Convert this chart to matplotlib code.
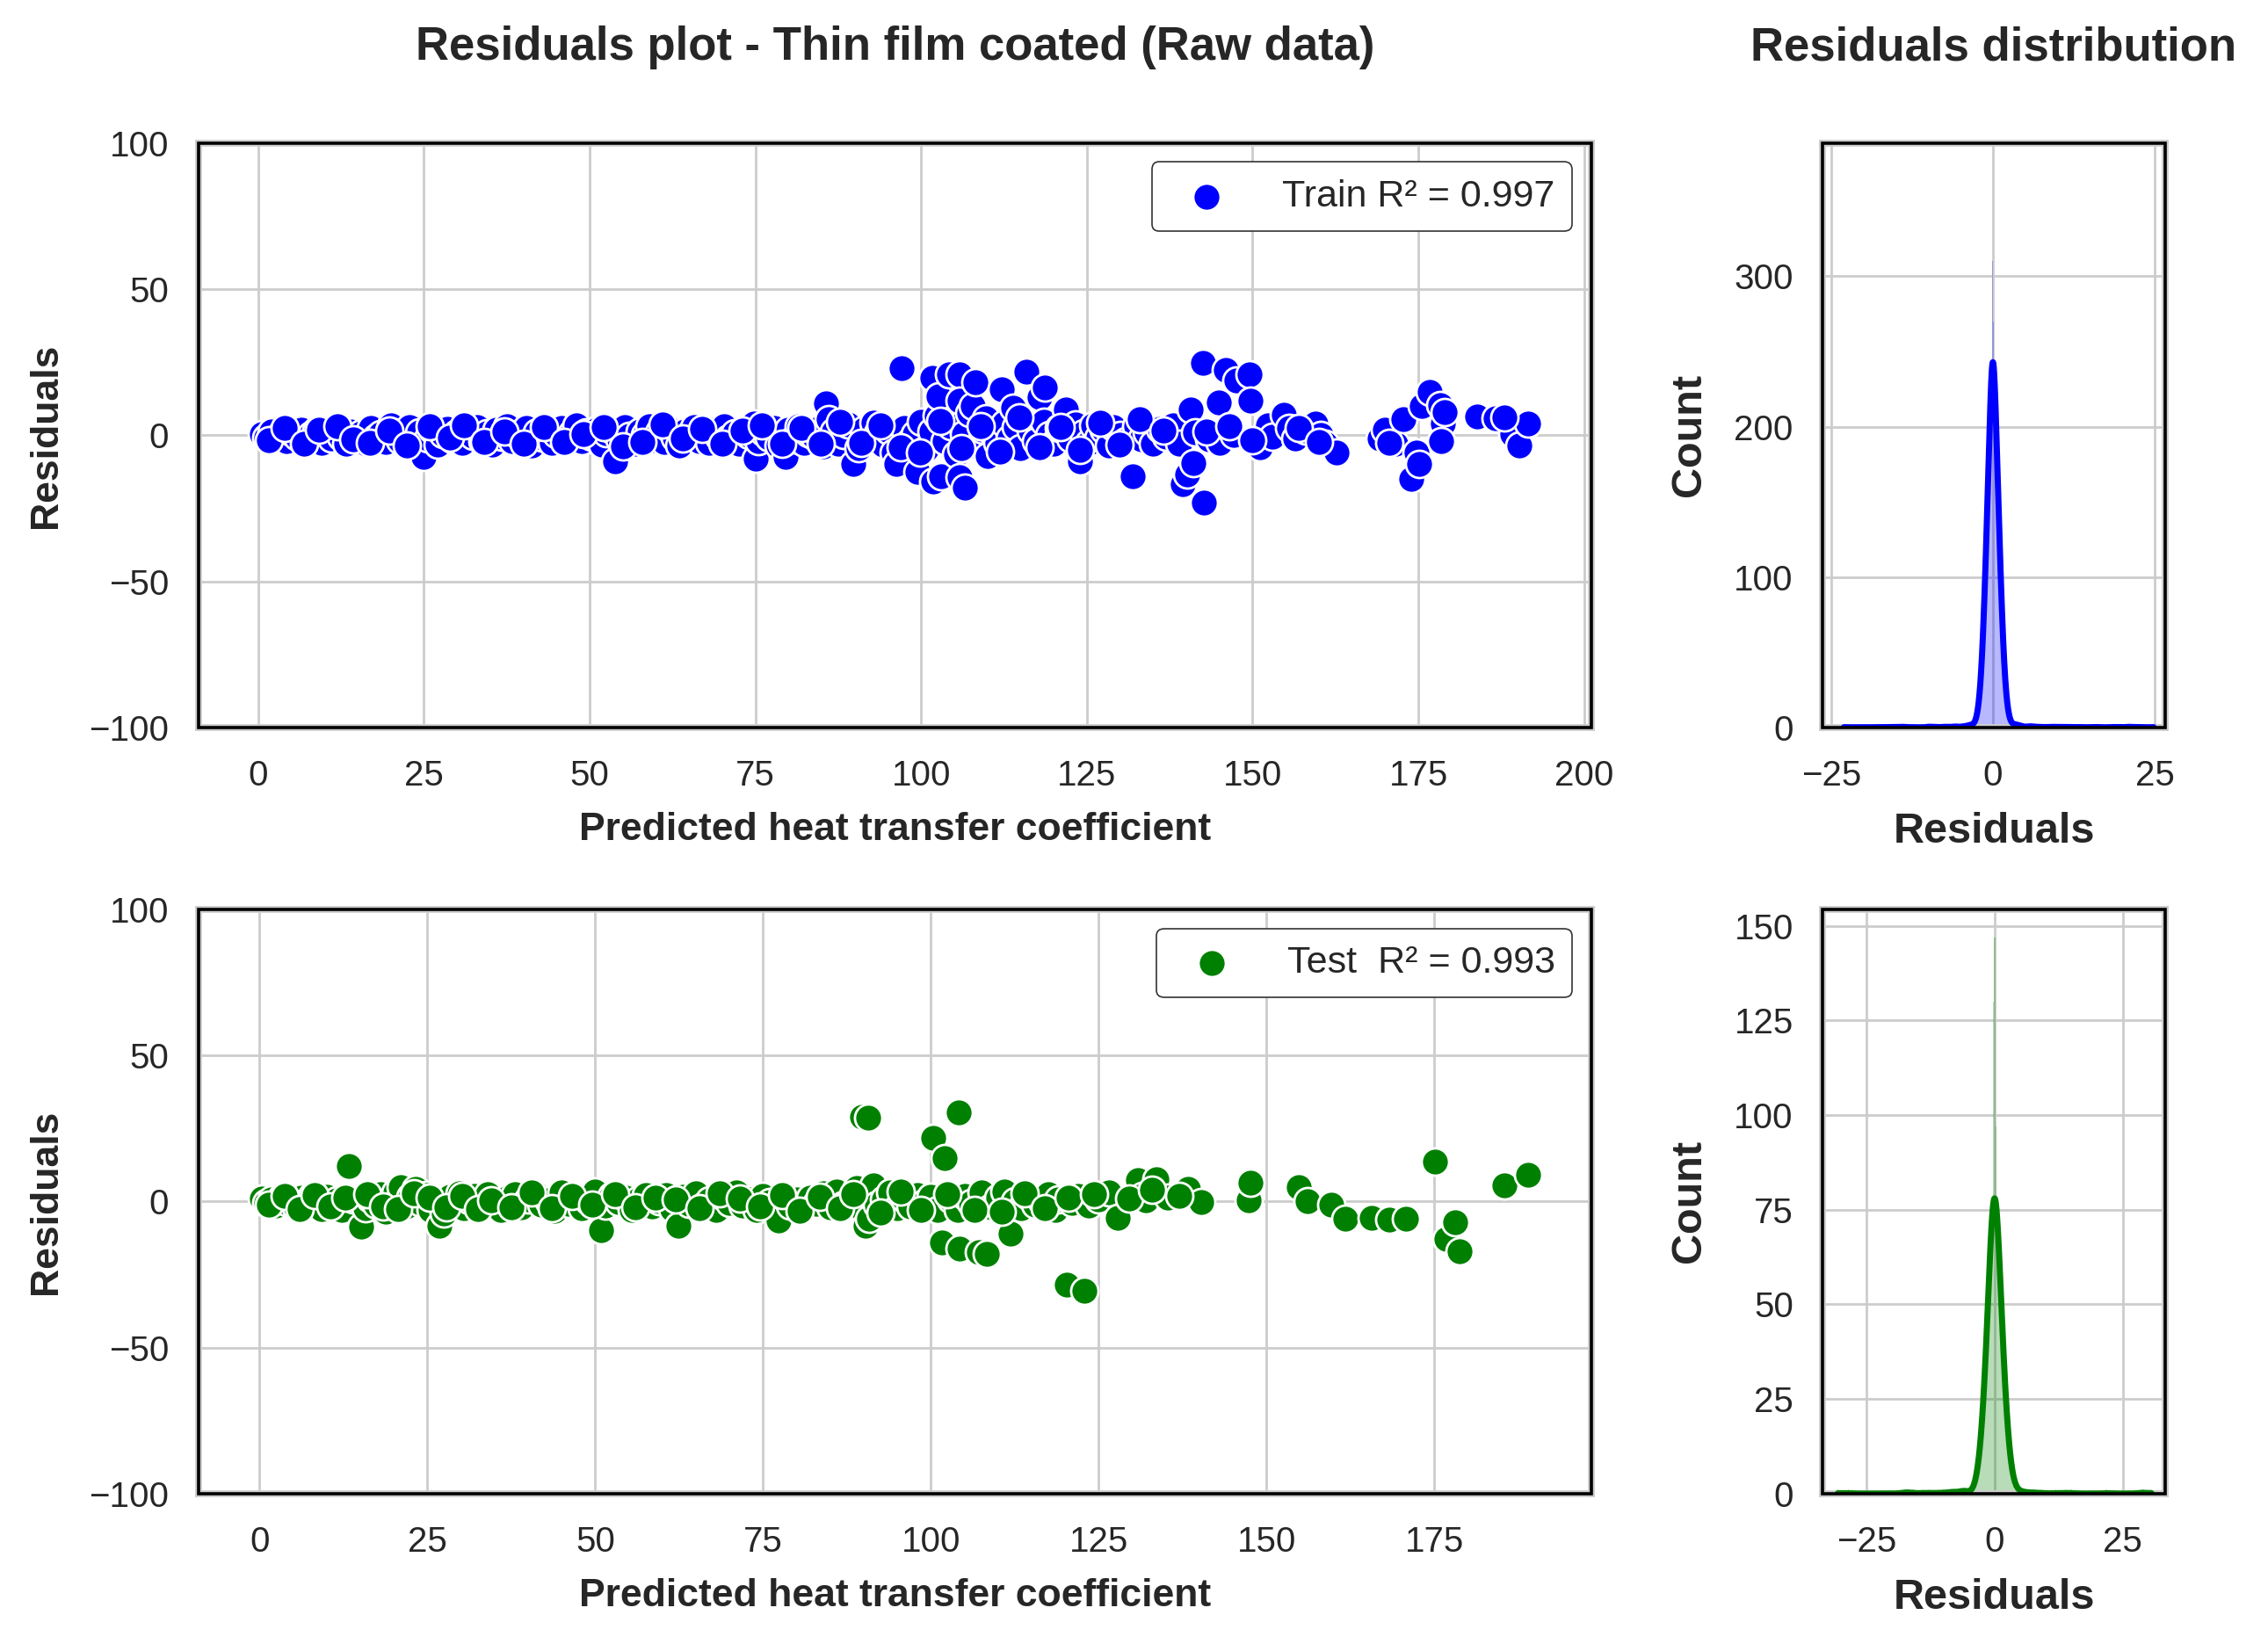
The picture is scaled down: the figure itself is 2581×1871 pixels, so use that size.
import numpy as np
import matplotlib
matplotlib.use("Agg")
import matplotlib.pyplot as plt
import seaborn as sns
from matplotlib.patches import Rectangle
from matplotlib.ticker import MultipleLocator

sns.set_theme(style="whitegrid")
plt.rcParams['font.family'] = ['Liberation Sans', 'DejaVu Sans']

# ---- scatter data ----
train_pred = [0.5, 1.2, 2.0, 2.8, 3.5, 4.3, 5.0, 5.8, 6.5, 7.3, 8.0, 8.8, 9.5, 10.3, 11.0, 11.8, 12.5, 13.3, 14.0, 14.8,
              15.5, 16.3, 17.0, 17.8, 18.5, 19.3, 20.0, 20.6, 21.3, 22.0, 22.8, 23.5, 24.3, 25.0, 25.6, 26.3, 27.0, 27.8, 28.5, 29.3,
              30.0, 30.8, 31.5, 32.3, 33.0, 33.8, 34.5, 35.3, 36.0, 36.8, 37.5, 38.3, 39.0, 39.8, 40.5, 41.3, 42.0, 42.8, 43.5, 44.3,
              45.0, 45.8, 46.5, 47.3, 48.0, 48.8, 49.5, 50.3, 51.0, 51.8, 52.5, 53.3, 53.8, 54.5, 55.3, 56.0, 56.8, 57.5, 58.3, 59.0,
              59.8, 60.5, 61.3, 62.0, 62.8, 63.5, 64.3, 65.0, 65.8, 66.5, 67.3, 68.0, 68.8, 69.5, 70.3, 71.0, 71.8, 72.5, 73.3, 74.0,
              74.8, 75.0, 75.5, 76.3, 77.0, 77.8, 78.5, 79.3, 79.5, 80.0, 80.8, 81.5, 82.3, 83.0, 83.8, 84.5, 85.3, 85.6, 86.0, 86.8,
              87.5, 88.3, 89.0, 89.8, 90.5, 91.3, 92.0, 92.8, 93.5, 94.3, 95.0, 95.8, 96.2, 97.0, 97.5, 98.3, 99.0, 99.4,
              100.0, 100.8, 101.5, 101.7, 101.8, 102.3, 102.6, 103.0, 103.5, 104.2, 104.5, 105.3, 105.8, 105.8, 105.8, 106.6, 106.5, 107.3,
              107.8, 108.2, 108.5, 109.3, 109.8, 110.0, 110.8, 111.5, 112.2, 112.5, 113.3, 113.9, 114.3, 115.0, 115.9, 116.5, 117.3, 117.9,
              118.7, 118.5, 119.3, 120.0, 120.8, 121.9, 122.5, 123.3, 123.9, 124.5, 125.3, 126.0, 126.8, 127.5, 128.3, 129.0, 130.0, 130.8,
              131.9, 132.5, 133.3, 134.0, 135.0, 136.0, 137.0, 138.0, 139.0, 139.5, 140.1, 140.7, 141.0, 141.3,
              142.5, 142.7, 143.5, 144.9, 145.1, 145.9, 147.1, 147.5, 149.5, 149.7, 151.1, 152.3, 153.0, 154.7, 155.5, 156.5, 158.0, 159.5,
              160.3, 161.0, 162.7, 169.1, 170.0, 171.5, 172.7, 173.9, 174.7, 175.1, 175.5, 176.7, 178.3, 178.7, 178.5, 183.9, 186.7, 189.2,
              190.3, 191.5,
              1.6, 4.0, 6.9, 9.1, 12.0, 14.4, 16.9, 19.8, 22.4, 25.9, 28.9, 31.1, 34.1, 37.1, 40.1, 43.1, 46.1, 49.1, 52.1, 55.0,
              58.0, 61.0, 64.0, 67.0, 70.0, 73.0, 76.0, 79.0, 82.0, 84.9, 87.8, 90.9, 93.9, 96.9, 99.8, 102.9, 106.0, 109.0, 111.9, 114.8,
              117.9, 121.0, 124.0, 127.0, 129.9, 133.0, 136.5, 143.0, 146.5, 150.0, 157.0, 160.0, 170.6, 179.0, 188.0]
train_resid = [0.5, -0.8, 1.2, -1.5, 0.3, -2.0, 1.0, -0.5, 2.0, -1.8, 0.2, 1.5, -2.5, 0.8, -1.2, 2.2, -0.4, -2.8, 1.3, -1.0,
               0.6, -3.0, 2.5, -0.9, 0.4, -2.2, 3.5, 1.0, -1.6, 0.2, 2.8, -2.4, 0.9, -7.4, -1.0, 1.8, -3.2, 0.5, 2.3, -1.4,
               0.8, -2.6, 1.6, -0.3, 2.9, -1.9, 0.7, -3.1, 1.9, -0.6, 3.0, -2.0, 0.4, -1.1, 2.4, -3.4, 0.9, -0.7, 1.7, -2.7,
               0.3, 2.6, -1.3, 0.6, 3.3, -2.1, 1.1, -0.5, 2.0, -3.3, 0.8, 1.9, -8.9, -1.5, 2.7, -0.2, -2.9, 1.4, 0.1, 3.1,
               -1.7, 0.9, -2.3, 2.1, -0.8, -3.5, 1.2, 0.0, 2.9, -1.9, 0.5, -2.6, 1.8, -0.4, 3.2, -1.2, 0.7, -3.0, 2.3, 0.2,
               4.0, -7.9, -2.0, 1.0, -0.9, 2.6, -3.6, 0.4, -7.4, 1.9, -1.4, 3.0, -2.5, 0.6, -0.3, 2.2, -3.9, 10.9, 5.5, 1.3,
               -2.8, 0.0, 3.6, -9.9, -4.5, 2.0, -1.6, 4.2, 0.8, -3.2, 1.5, -6.0, -9.9, 23.0, 2.6, -2.4, 0.3, -12.4,
               4.5, -4.8, 1.2, 19.6, -15.8, 6.8, 13.4, -13.9, -2.0, 20.8, 3.0, -6.5, 21.0, 11.9, -14.4, -17.8, 0.5, 7.5,
               9.9, 18.3, -3.8, 2.0, 5.9, -7.0, 0.8, -2.5, 15.8, 4.0, -1.0, 9.4, 2.8, -4.5, 21.8, 1.5, -2.0, 12.9,
               16.3, 4.5, 0.0, -3.0, 2.5, 8.9, -1.2, 3.8, -8.9, 0.6, -2.6, 3.5, -0.8, 1.8, -3.4, 2.9, 0.2, -2.0,
               -13.9, 3.0, -1.4, 1.0, -2.8, 2.2, -0.5, 3.5, -3.0, -16.8, -13.4, 8.9, -9.4, 1.0,
               24.8, -23.0, -1.5, 11.1, -2.5, 22.3, 0.0, 18.8, 20.8, 11.9, -4.0, 3.5, -0.5, 6.9, 2.5, -1.0, 1.5, 4.0,
               0.0, -3.0, -5.9, -1.0, 2.0, -3.0, 5.4, -14.9, -5.9, -9.9, 9.9, 14.9, 10.4, 4.0, -2.0, 6.4, 5.9, 0.5,
               -3.5, 4.0,
               -1.8, 2.4, -3.0, 1.9, 3.1, -1.4, -2.6, 1.6, -3.5, 3.2, -0.8, 3.4, -2.4, 1.3, -3.0, 2.7, -2.2, 0.5, 2.9, -3.8,
               -2.4, 3.6, -1.1, 2.2, -2.9, 1.5, 3.4, -2.8, 2.6, -3.0, 4.5, -2.6, 3.5, -4.0, -6.0, 5.0, -4.5, 3.2, -5.5, 6.0,
               -4.0, 2.8, -5.0, 4.2, -3.2, 5.5, 1.5, 1.2, 3.0, -1.8, 2.5, -2.2, -2.5, 8.0, 6.0]

test_pred = [0.3, 1.0, 1.8, 2.5, 3.3, 4.0, 4.8, 5.5, 6.3, 7.0, 7.8, 8.5, 9.3, 10.0, 10.8, 11.5, 12.3, 13.3, 14.0, 15.1,
             15.8, 16.5, 17.3, 18.0, 18.8, 19.5, 20.3, 21.0, 21.8, 22.5, 23.3, 24.0, 24.8, 25.5, 26.3, 26.8, 27.5, 28.3, 29.0, 29.8,
             30.5, 31.3, 32.0, 33.0, 34.0, 35.0, 36.0, 37.0, 38.0, 39.0, 40.0, 41.0, 42.0, 43.0, 44.0, 45.0, 46.0, 47.0, 48.0, 49.0,
             50.0, 50.9, 51.5, 52.5, 53.5, 54.5, 55.5, 56.5, 57.5, 58.5, 59.5, 60.5, 61.5, 62.4, 63.0, 64.0, 65.0, 66.0, 67.0, 68.0,
             69.0, 70.0, 71.0, 72.0, 73.0, 74.0, 75.0, 76.0, 77.3, 78.0, 79.0, 80.0, 81.0, 82.0, 83.0, 84.0, 85.0, 86.0, 87.0, 88.0,
             89.0, 89.8, 90.0, 90.3, 90.6, 90.8, 91.0, 91.5, 92.0, 93.0, 94.0, 95.0, 96.0, 97.0, 98.0, 99.0, 100.0, 100.4, 101.0, 101.6,
             102.0, 103.0, 104.0, 104.2, 104.3, 105.0, 106.0, 107.1, 107.5, 108.3, 109.0, 110.0, 111.0, 111.9, 112.5, 113.5, 114.5, 115.5, 116.5, 117.5,
             118.5, 119.0, 120.2, 121.0, 122.0, 122.9, 123.5, 125.0, 126.5, 127.9, 130.8, 131.5, 132.0, 133.6, 135.3, 138.3, 140.3, 147.3, 147.6, 154.8,
             156.1, 159.7, 161.8, 165.6, 168.3, 170.8, 175.1, 176.8, 178.1, 178.8, 185.4, 188.9,
             1.4, 3.7, 6.0, 8.2, 10.5, 12.8, 16.1, 18.4, 20.7, 23.0, 25.3, 27.9, 30.2, 32.5, 34.5, 37.5, 40.5, 43.5, 46.5, 49.5,
             53.0, 56.0, 59.0, 62.0, 65.5, 68.5, 71.5, 74.5, 77.8, 80.5, 83.5, 86.5, 88.5, 92.5, 95.5, 98.5, 102.5, 106.5, 110.5, 114.0,
             117.0, 120.5, 124.3, 129.5, 133.0, 137.0]
test_resid = [1.0, -0.5, 0.8, -1.5, 1.6, -0.2, 0.5, -2.0, 1.2, -1.0, 2.0, 0.0, -2.6, 1.5, -0.8, 0.4, -3.0, 12.1, 0.6, -8.6,
              -2.2, 1.0, -1.2, 2.5, -3.5, 0.5, 3.0, 5.0, -1.8, 1.5, 4.2, -0.6, 2.2, -2.8, 0.9, -8.2, -4.0, 1.6, -1.0, 2.8,
              -2.4, 0.3, 1.9, -1.5, 2.4, -0.4, -3.0, 1.2, 2.6, -2.0, 0.8, 2.9, -1.0, 0.4, -3.3, 3.0, -0.7, 1.7, -2.3, 0.2,
              3.4, -9.9, -1.4, 2.0, -0.3, 1.4, -2.9, 0.7, 2.3, -1.6, 0.1, 2.1, -2.5, -8.4, 1.5, -0.9, 2.7, -1.8, 0.5, -3.0,
              1.8, -0.5, 3.2, -1.4, 0.6, -2.8, 1.9, -0.2, -6.4, 2.4, -1.5, 0.8, -2.6, 1.2, -0.8, 2.9, -2.0, 3.5, -1.0, 0.5,
              4.5, 29.0, -3.5, -8.4, 28.6, -6.0, 2.0, 5.5, -1.2, 0.6, 3.0, -2.4, 1.0, -1.6, 2.2, -0.4, 1.5, 21.9, -2.8, -14.1,
              15.0, 0.8, -3.0, 30.6, -16.1, 2.0, -0.5, -17.3, 3.0, -17.8, -2.0, 1.2, 3.5, -11.1, 0.0, -2.2, 1.8, -1.0, 0.5, 2.6,
              -2.8, 0.8, -28.6, -0.5, 2.0, -30.6, -1.5, 0.6, 3.0, -5.6, 7.4, 2.0, 0.3, 7.6, 1.2, 4.4, -0.2, 0.5, 6.4, 4.9,
              0.0, -1.0, -5.9, -5.6, -6.2, -5.9, 13.8, -12.8, -7.1, -17.1, 5.6, 9.2,
              -1.2, 1.8, -2.5, 2.3, -1.8, 1.2, 2.6, -1.6, -2.6, 2.8, 1.4, -2.1, 2.0, -2.7, 0.4, -1.9, 3.1, -2.2, 1.9, -1.2,
              2.6, -2.0, 1.2, 0.7, -2.4, 2.8, 0.9, -1.7, 2.2, -3.1, 1.6, -2.4, 2.6, -3.8, 3.4, -3.0, 2.6, -2.9, -3.6, 2.9,
              -2.2, 1.4, 2.4, 1.0, 4.0, 2.0]

# ---- histogram core counts around zero (bins centred on 0) ----
train_bin_w = 0.1
train_core_counts = [1, 2, 2, 3, 4, 5, 7, 9, 12, 15, 20, 25, 32, 39, 48, 58, 70, 82, 96, 111, 126, 142, 158, 173, 187, 200,
                     212, 221, 228, 310,
                     370,
                     270, 228, 221, 212, 200, 187, 173, 158, 142, 126, 111, 96, 82, 70, 58, 48, 39, 32, 25, 20,
                     15, 12, 9, 7, 5, 4, 3, 2, 2, 1]
test_bin_w = 0.2
test_core_counts = [0, 1, 1, 2, 3, 4, 7, 9, 12, 15, 20, 25, 31, 37, 44, 52, 57, 64, 69, 73, 130,
                    147,
                    97, 73, 69, 64, 57, 52, 44, 37, 31, 25, 20, 15, 12, 9, 7, 4, 3, 2, 1, 1, 0]
train_kde_bw = 0.37
test_kde_bw = 0.85

train_label = "Train R\u00b2 = 0.997"
test_label = "Test  R\u00b2 = 0.993"


def hist_bins(core, w, resid):
    core = np.asarray(core, float)
    half = len(core) // 2
    centers = (np.arange(len(core)) - half) * w
    lim = (half + 0.5) * w
    r = np.asarray(resid, float)
    tail = r[np.abs(r) > lim]
    c = np.concatenate([centers, np.round(tail / w) * w])
    v = np.concatenate([core, np.ones(len(tail))])
    return c, v


def kde_curve(c, v, w, bw):
    xs = np.linspace(c.min(), c.max(), 1500)
    k = np.exp(-0.5 * ((xs[:, None] - c[None, :]) / bw) ** 2) / (bw * np.sqrt(2 * np.pi))
    return xs, (k * v).sum(axis=1) * w


def frame(ax):
    for s in ax.spines.values():
        s.set_color('#cccccc')
        s.set_linewidth(2.8)
    ax.add_patch(Rectangle((0, 0), 1, 1, transform=ax.transAxes, fill=False,
                           edgecolor='black', linewidth=1.3, zorder=5, clip_on=False))


fig = plt.figure(figsize=(12.905, 9.355), dpi=200)
ax1 = fig.add_axes([0.0874, 0.5576, 0.6141, 0.3553])
ax2 = fig.add_axes([0.0874, 0.0915, 0.6141, 0.3553])
hx1 = fig.add_axes([0.8036, 0.5576, 0.1511, 0.3553])
hx2 = fig.add_axes([0.8036, 0.0915, 0.1511, 0.3553])

for ax, xp, yr, col, lab in [(ax1, train_pred, train_resid, 'blue', train_label),
                              (ax2, test_pred, test_resid, 'green', test_label)]:
    ax.scatter(xp, yr, s=125, color=col, edgecolor='white', linewidth=1.0, label=lab, zorder=3)
    ax.set_ylim(-100, 100)
    ax.yaxis.set_major_locator(MultipleLocator(50))
    ax.xaxis.set_major_locator(MultipleLocator(25))
    ax.set_xlabel("Predicted heat transfer coefficient", fontsize=16, fontweight='bold', labelpad=8)
    ax.set_ylabel("Residuals", fontsize=16, fontweight='bold', labelpad=10)
    ax.tick_params(axis='x', labelsize=14.5, pad=7)
    ax.tick_params(axis='y', labelsize=14.5, pad=6)
    leg = ax.legend(loc='upper right', fontsize=15.5, frameon=True, fancybox=True,
                    framealpha=1, edgecolor='#333333', handletextpad=1.0, borderpad=0.45)
    leg.get_frame().set_linewidth(0.6)
    frame(ax)

for ax, core, w, yr, bw, col, xl in [(hx1, train_core_counts, train_bin_w, train_resid, train_kde_bw, 'blue', (-26.3, 26.6)),
                                     (hx2, test_core_counts, test_bin_w, test_resid, test_kde_bw, 'green', (-33.6, 33.3))]:
    c, v = hist_bins(core, w, yr)
    ax.bar(c, v, width=w, color=col, alpha=0.28, linewidth=0, zorder=2)
    xs, ys = kde_curve(c, v, w, bw)
    ax.plot(xs, ys, color=col, linewidth=2.5, zorder=3)
    ax.set_xlim(*xl)
    ax.xaxis.set_major_locator(MultipleLocator(25))
    ax.set_xlabel("Residuals", fontsize=17.5, fontweight='bold', labelpad=8)
    ax.set_ylabel("Count", fontsize=17.5, fontweight='bold', labelpad=10)
    ax.tick_params(axis='x', labelsize=14.5, pad=7)
    ax.tick_params(axis='y', labelsize=14.5, pad=6)
    frame(ax)

hx1.yaxis.set_major_locator(MultipleLocator(100))
hx2.yaxis.set_major_locator(MultipleLocator(25))

fig.text(0.3948, 0.971, "Residuals plot - Thin film coated (Raw data)", ha='center', va='center',
         fontsize=19, fontweight='bold', color='#262626')
fig.text(0.8788, 0.971, "Residuals distribution", ha='center', va='center',
         fontsize=19, fontweight='bold', color='#262626')

fig.savefig("out.png", dpi=200)
